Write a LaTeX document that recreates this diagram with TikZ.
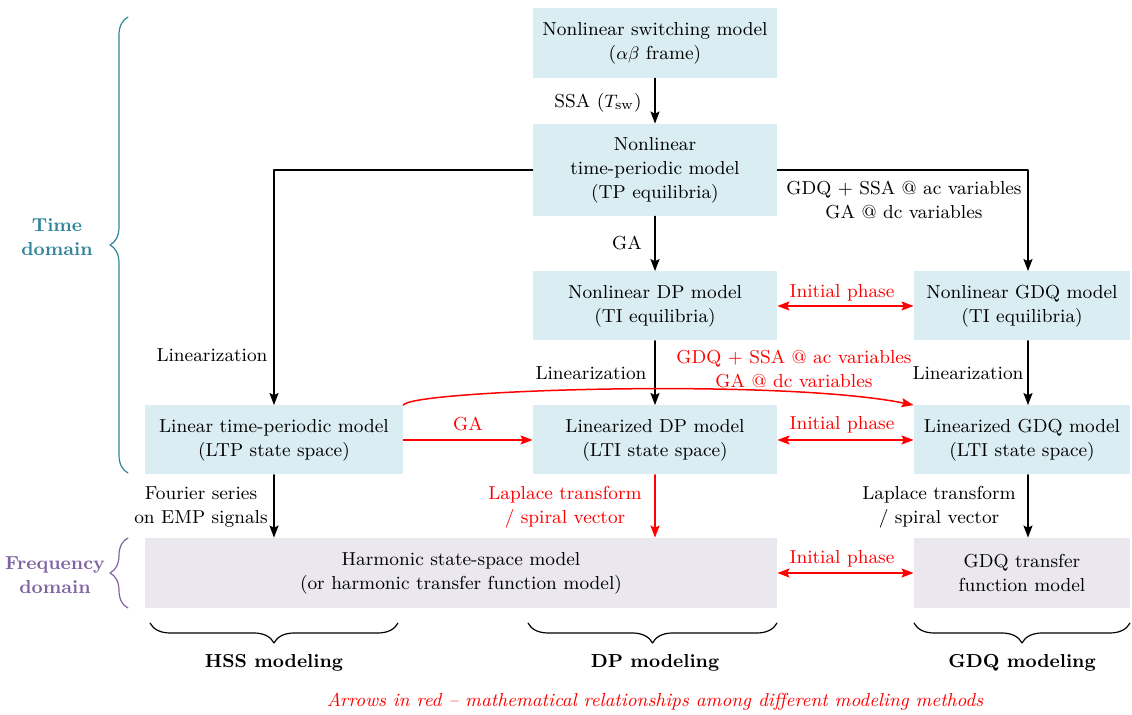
\documentclass[tikz,border=0pt]{standalone}
\usetikzlibrary{arrows.meta}
\usetikzlibrary{decorations.pathreplacing}
\usetikzlibrary{positioning}

\definecolor{tdfill}{HTML}{DAEDF3}
\definecolor{fdfill}{HTML}{EAE7EF}
\definecolor{tdcolor}{HTML}{31849B}
\definecolor{fdcolor}{HTML}{8064A2}
\definecolor{relred}{HTML}{FF0000}

\tikzset{
  tdbox/.style={fill=tdfill, align=center, inner sep=0pt, minimum width=122pt, minimum height=34.5pt},
  fdbox/.style={fill=fdfill, align=center, inner sep=0pt, minimum height=35pt},
  blk/.style={->, line width=0.75pt, black},
  rel/.style={->, line width=0.75pt, relred},
  rellbl/.style={align=center, text=relred},
  brc/.style={decorate, line width=0.6pt, decoration={brace, amplitude=#1}},
}

\begin{document}
\begin{tikzpicture}[x=0.5pt, y=-0.5pt, line cap=round, line join=round,
    >={Stealth[length=6pt, width=4.5pt, inset=1pt]},
    every node/.style={font=\fontsize{9.4}{12}\selectfont}]
  \useasboundingbox (0,0) rectangle (1132,715);
  %--- Time domain models
    \node[tdbox, minimum height=35pt] (sw) at (655,43) {Nonlinear switching model\\($\alpha\beta$ frame)};
    \node[tdbox, minimum height=46pt] (tp) at (655,170) {Nonlinear\\time-periodic model\\(TP equilibria)};
    \node[tdbox] (ndp) at (655,306) {Nonlinear DP model\\(TI equilibria)};
    \node[tdbox, minimum width=108pt] (ngdq) at (1022,306) {Nonlinear GDQ model\\(TI equilibria)};
    \node[tdbox, minimum width=129pt] (ltp) at (274,440) {Linear time-periodic model\\(LTP state space)};
    \node[tdbox] (ldp) at (655,440) {Linearized DP model\\(LTI state space)};
    \node[tdbox, minimum width=108pt] (lgdq) at (1022,440) {Linearized GDQ model\\(LTI state space)};
  %--- Frequency domain models
    \node[fdbox, minimum width=316pt] (hss) at (461,573) {Harmonic state-space model\\(or harmonic transfer function model)};
    \node[fdbox, minimum width=108pt] (gdqtf) at (1022,573) {GDQ transfer\\function model};
  %--- Averaging
    \draw[blk] (sw) -- (tp);
    \node (lssa) at (598,103) {SSA ($T_{\mathrm{sw}}$)};
    \draw[blk] (tp) -- (ndp);
    \node (lga) at (627,243) {GA};
    \draw[blk] (tp.west) -| (ltp.north);
    \node (llinltp) at (212,355) {Linearization};
    \draw[blk] (tp.east) -| ([xshift=3pt]ngdq.north);
    \node[align=center] (lgdqavg) at (904,200) {GDQ + SSA @ ac variables\\GA @ dc variables};
  %--- Linearization
    \draw[blk] (ndp) -- (ldp);
    \node (llindp) at (591,373) {Linearization};
    \draw[blk] ([xshift=3pt]ngdq.south) -- ([xshift=3pt]lgdq.north);
    \node (llingdq) at (968,373) {Linearization};
  %--- Red relations
    \draw[rel, <->] (ndp) -- (ngdq);
    \node[rellbl] (linit1) at (842,293) {Initial phase};
    \draw[rel] (ltp) -- (ldp);
    \node[rellbl] (lgared) at (468,424) {GA};
    \draw[rel, <->] (ldp) -- (lgdq);
    \node[rellbl] (linit2) at (842,425) {Initial phase};
    \draw[rel] (ltp.north east) .. controls (410,390) and (780,378) .. (lgdq.north west);
    \node[rellbl] (lgdqred) at (794,369) {GDQ + SSA @ ac variables\\GA @ dc variables};
  %--- To frequency domain
    \draw[blk] (ltp.south) -- (ltp.south |- hss.north);
    \node[align=center] (lfourier) at (201,507) {Fourier series\\on EMP signals};
    \draw[rel] (ldp.south) -- (ldp.south |- hss.north);
    \node[rellbl] (llapdp) at (565,507) {Laplace transform\\/ spiral vector};
    \draw[blk] ([xshift=3pt]lgdq.south) -- ([xshift=3pt]gdqtf.north);
    \node[align=center] (llapgdq) at (939,507) {Laplace transform\\/ spiral vector};
    \draw[rel, <->] (hss) -- (gdqtf);
    \node[rellbl] (linit3) at (842,559) {Initial phase};
  %--- Domain braces
    \draw[brc=9pt, tdcolor] (128,473) -- (128,17);
    \node[align=center, text=tdcolor, font=\fontsize{9.4}{12}\selectfont\bfseries] (ltime) at (57,237) {Time\\domain};
    \draw[brc=9pt, fdcolor] (128,608) -- (128,538);
    \node[align=center, text=fdcolor, font=\fontsize{9.4}{12}\selectfont\bfseries] (lfreq) at (55,575) {Frequency\\domain};
  %--- Method braces
    \draw[brc=10pt] (398,623) -- (150,623);
    \node[font=\fontsize{9.4}{12}\selectfont\bfseries] (lhss) at (274,663) {HSS modeling};
    \draw[brc=10pt] (777,623) -- (528,623);
    \node[font=\fontsize{9.4}{12}\selectfont\bfseries] (ldpm) at (655,663) {DP modeling};
    \draw[brc=10pt] (1130,623) -- (914,623);
    \node[font=\fontsize{9.4}{12}\selectfont\bfseries] (lgdqm) at (1022,663) {GDQ modeling};
  %--- Note
    \node[text=relred, font=\fontsize{9.4}{12}\selectfont\itshape] (lnote) at (655,702) {Arrows in red -- mathematical relationships among different modeling methods};
\end{tikzpicture}
\end{document}
